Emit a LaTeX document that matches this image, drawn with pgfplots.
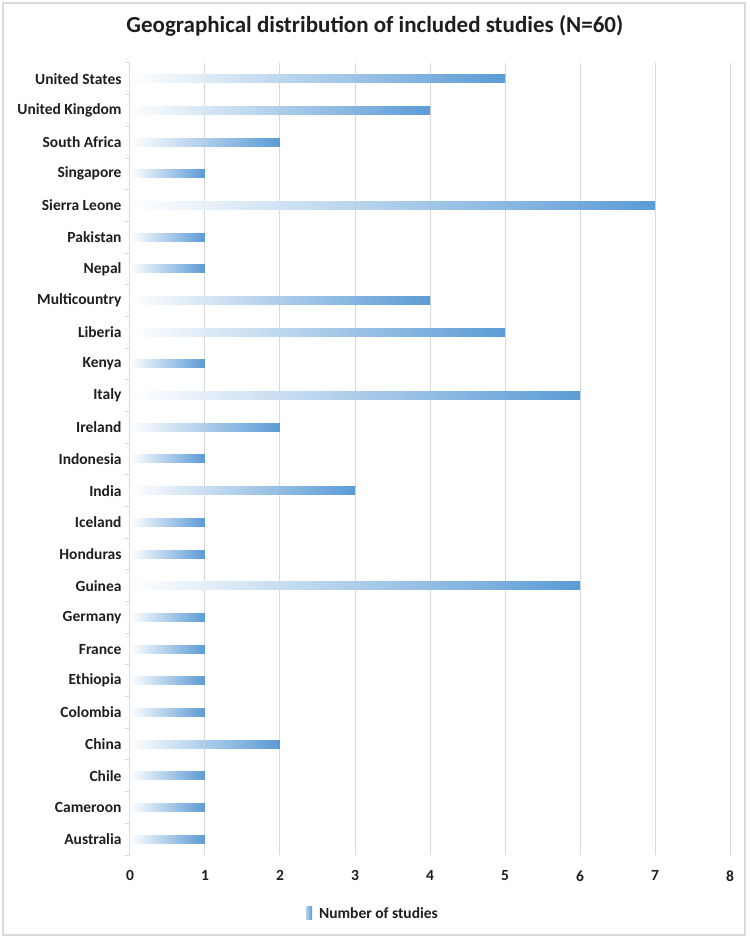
\documentclass[border=0pt]{standalone}
\usepackage{pgfplots}
\pgfplotsset{compat=1.18}
\usepackage{fontspec}
\setmainfont{Carlito}
\definecolor{barblue}{RGB}{91,155,213}
\definecolor{gridgray}{RGB}{217,217,217}
\definecolor{txt}{RGB}{30,30,30}
\pgfplotsset{bb/.style={draw=none,left color=white,right color=barblue,bar shift=0pt}}
\begin{document}
\begin{tikzpicture}
\useasboundingbox (-130bp,-83bp) rectangle (620bp,855bp);
\draw[gridgray,line width=1.2bp] (-127bp,-80bp) rectangle (615bp,852bp);
\begin{axis}[
 scale only axis,width=600bp,height=792bp,
 at={(0,0)},anchor=south west,
 xbar,bar width=8bp,
 xmin=0,xmax=8,ymin=-0.5,ymax=24.5,
 xtick={0,...,8},
 ytick={0,...,24},
 yticklabels={Australia,Cameroon,Chile,China,Colombia,Ethiopia,France,Germany,Guinea,Honduras,Iceland,India,Indonesia,Ireland,Italy,Kenya,Liberia,Multicountry,Nepal,Pakistan,Sierra Leone,Singapore,South Africa,United Kingdom,United States},
 minor ytick={-0.5,0.5,...,24.5},
 major tick length=0pt,minor tick length=5bp,
 tick align=outside,
 tick style={gridgray,line width=1bp},
 xmajorgrids,grid style={gridgray,line width=1bp},
 axis x line*=bottom,axis y line*=left,
 x axis line style={draw=none},
 y axis line style={gridgray,line width=1bp},
 /pgf/number format/assume math mode=true,
 tick label style={font=\bfseries\fontsize{15.5bp}{17bp}\selectfont,text=txt},
 xticklabel style={yshift=-12bp},
 yticklabel style={xshift=-5bp},
 title={Geographical distribution of included studies (N=60)},
 title style={font=\bfseries\fontsize{23bp}{25bp}\selectfont,text=txt,at={(rel axis cs:0.408,1)},anchor=south,yshift=17bp},
 legend style={draw=none,at={(rel axis cs:0.405,0)},anchor=north,yshift=-48bp,font=\bfseries\fontsize{15.5bp}{17bp}\selectfont,text=txt},
 legend image code/.code={\shade[left color=barblue!45,right color=barblue] (0bp,-6bp) rectangle (6bp,7bp);\path (6bp,0bp) -- (11bp,0bp);},
]
\addplot[bb] coordinates {(1,0)};
\addlegendentry{Number of studies}
\addplot[bb,forget plot] coordinates {(1,1)};
\addplot[bb,forget plot] coordinates {(1,2)};
\addplot[bb,forget plot] coordinates {(2,3)};
\addplot[bb,forget plot] coordinates {(1,4)};
\addplot[bb,forget plot] coordinates {(1,5)};
\addplot[bb,forget plot] coordinates {(1,6)};
\addplot[bb,forget plot] coordinates {(1,7)};
\addplot[bb,forget plot] coordinates {(6,8)};
\addplot[bb,forget plot] coordinates {(1,9)};
\addplot[bb,forget plot] coordinates {(1,10)};
\addplot[bb,forget plot] coordinates {(3,11)};
\addplot[bb,forget plot] coordinates {(1,12)};
\addplot[bb,forget plot] coordinates {(2,13)};
\addplot[bb,forget plot] coordinates {(6,14)};
\addplot[bb,forget plot] coordinates {(1,15)};
\addplot[bb,forget plot] coordinates {(5,16)};
\addplot[bb,forget plot] coordinates {(4,17)};
\addplot[bb,forget plot] coordinates {(1,18)};
\addplot[bb,forget plot] coordinates {(1,19)};
\addplot[bb,forget plot] coordinates {(7,20)};
\addplot[bb,forget plot] coordinates {(1,21)};
\addplot[bb,forget plot] coordinates {(2,22)};
\addplot[bb,forget plot] coordinates {(4,23)};
\addplot[bb,forget plot] coordinates {(5,24)};
\end{axis}
\end{tikzpicture}
\end{document}
